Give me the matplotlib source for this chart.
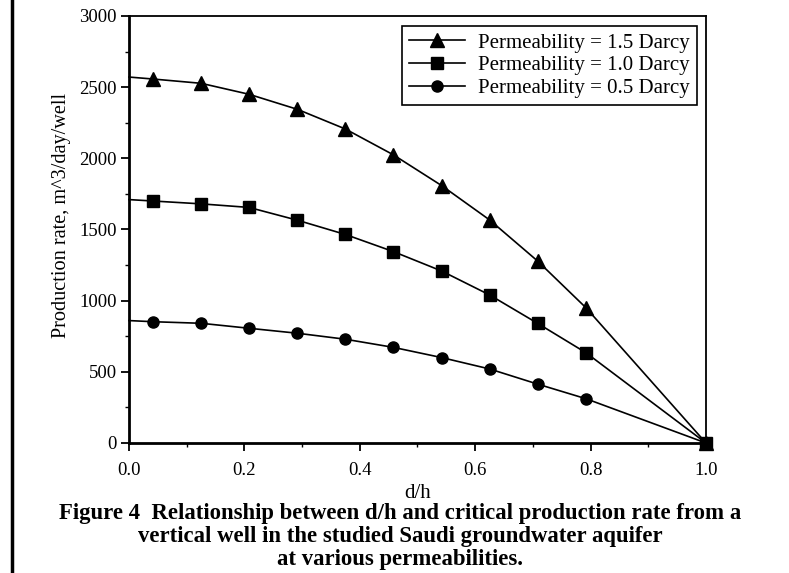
import matplotlib
matplotlib.use('Agg')
import matplotlib.pyplot as plt
from matplotlib.ticker import MultipleLocator

plt.rcParams['font.family'] = ['Liberation Serif', 'DejaVu Serif']

# d/h values (first entry is the curve start, drawn without a marker)
d_over_h = [0.0, 0.042, 0.125, 0.208, 0.292, 0.375, 0.458, 0.542, 0.625, 0.708, 0.792, 1.0]
rate_15 = [2571, 2557, 2527, 2450, 2344, 2206, 2025, 1808, 1567, 1279, 950, 0]
rate_10 = [1710, 1700, 1680, 1655, 1565, 1465, 1345, 1208, 1040, 841, 634, 0]
rate_05 = [860, 852, 841, 806, 771, 729, 672, 600, 520, 414, 311, 0]

series = [
    (rate_15, '^', 10, 'Permeability = 1.5 Darcy'),
    (rate_10, 's', 8, 'Permeability = 1.0 Darcy'),
    (rate_05, 'o', 8, 'Permeability = 0.5 Darcy'),
]

fig = plt.figure(figsize=(7.89, 5.73), dpi=100)
ax = fig.add_axes([0.1635, 0.2269, 0.7313, 0.7452])

for vals, mk, ms, lab in series:
    ax.plot(d_over_h, vals, '-', color='black', lw=1.2, marker=mk, markersize=ms,
            markevery=list(range(1, len(d_over_h))), label=lab, clip_on=False)

ax.set_xlim(0, 1.0)
ax.set_ylim(0, 3000)
ax.xaxis.set_major_locator(MultipleLocator(0.2))
ax.xaxis.set_minor_locator(MultipleLocator(0.1))
ax.yaxis.set_major_locator(MultipleLocator(500))
ax.yaxis.set_minor_locator(MultipleLocator(250))
ax.xaxis.set_major_formatter(plt.FuncFormatter(lambda v, p: f'{v:.1f}'))
ax.tick_params(which='major', direction='out', length=6, width=1.3, labelsize=13.5, pad=3)
ax.tick_params(which='minor', direction='out', length=3, width=1.0)
ax.tick_params(axis='x', which='major', pad=8)
ax.tick_params(top=False, right=False)
for side in ['left', 'bottom']:
    ax.spines[side].set_linewidth(2.0)
for side in ['top', 'right']:
    ax.spines[side].set_linewidth(1.3)

ax.set_xlabel('d/h', fontsize=15, labelpad=3)
ax.set_ylabel('Production rate, m^3/day/well', fontsize=14.6)
ax.yaxis.set_label_coords(-0.101, 0.533)

leg = ax.legend(loc='upper right', bbox_to_anchor=(0.984, 0.977), borderaxespad=0,
                fontsize=15, handlelength=2.7, fancybox=False, framealpha=1,
                edgecolor='black', borderpad=0.35, labelspacing=0.15, handletextpad=0.6)
leg.get_frame().set_linewidth(1.2)

caption = ('Figure 4  Relationship between d/h and critical production rate from a\n'
           'vertical well in the studied Saudi groundwater aquifer\n'
           'at various permeabilities.')
fig.text(0.507, 0.123, caption, ha='center', va='top', fontsize=16.4,
         fontweight='bold', linespacing=1.15)

# border line on the left edge of the page
fig.add_artist(plt.Line2D([0.0152, 0.0152], [0, 1], color='black', lw=2.5,
                          transform=fig.transFigure))

fig.savefig('out.png', dpi=100)
